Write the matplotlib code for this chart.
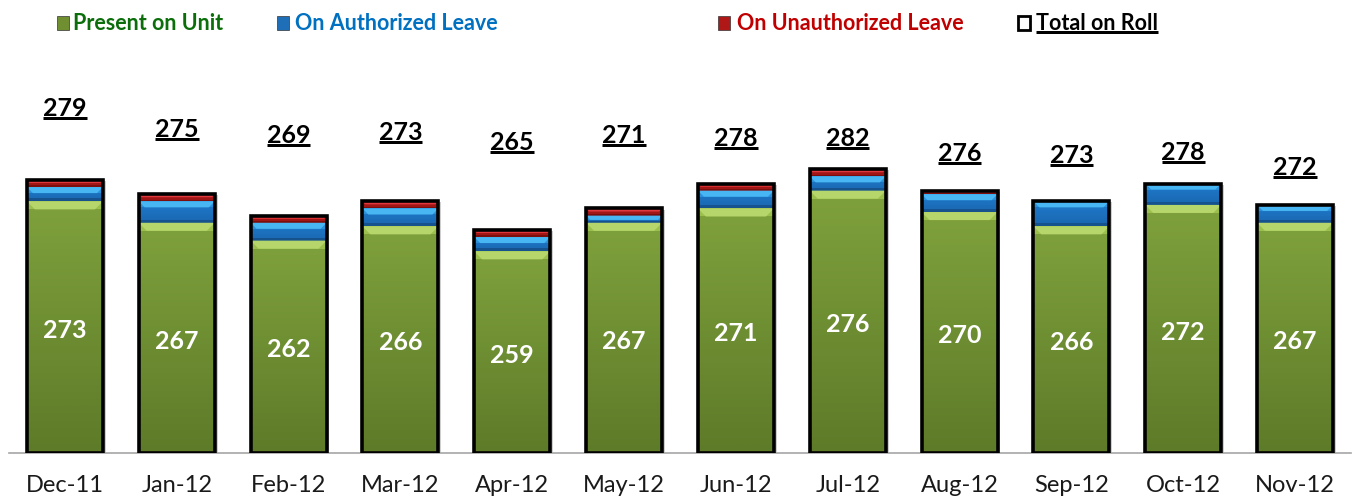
import matplotlib
matplotlib.use("Agg")
import matplotlib.pyplot as plt
from matplotlib.patches import Rectangle, Polygon
from matplotlib.lines import Line2D
from matplotlib.colors import LinearSegmentedColormap
import numpy as np

# ---------------- data ----------------
months = ["Dec-11", "Jan-12", "Feb-12", "Mar-12", "Apr-12", "May-12",
          "Jun-12", "Jul-12", "Aug-12", "Sep-12", "Oct-12", "Nov-12"]
present = [273, 267, 262, 266, 259, 267, 271, 276, 270, 266, 272, 267]
authorized = [4, 6, 5, 5, 4, 2, 5, 4, 5, 7, 6, 5]
unauthorized = [2, 2, 2, 2, 2, 2, 2, 2, 1, 0, 0, 0]
total = [279, 275, 269, 273, 265, 271, 278, 282, 276, 273, 278, 272]

# label heights (layout, data units) for the "Total on Roll" labels
total_label_y = [299.2, 293.3, 291.7, 292.5, 289.7, 291.7,
                 290.8, 290.8, 286.6, 286.1, 286.9, 282.7]

# ---------------- style ----------------
FONT = "Lato"
W, H, DPI = 1358, 502, 100
YMIN, YMAX = 202.5, 312.6
AX_TOP_PX, AX_BOT_PX = 61, 454
styles = {
    "green": dict(body_top="#7fa13c", body_bot="#5e7b29", band="#9cc04c",
                  hi="#b6d66c", low=None),
    "blue": dict(body_top="#1f7ccc", body_bot="#1a66b0", band="#2a90dc",
                 hi="#48b6f2", low="#15528e"),
    "red": dict(body_top="#b01a1a", body_bot="#9a1414", band="#c82222",
                hi="#e0383c", low="#7c0e0e"),
}

fig = plt.figure(figsize=(W / DPI, H / DPI), dpi=DPI)
ax = fig.add_axes([9 / W, 1 - AX_BOT_PX / H, 1342 / W, (AX_BOT_PX - AX_TOP_PX) / H])

x = np.arange(len(months))
bw = 0.68
px_per_unit = (AX_BOT_PX - AX_TOP_PX) / (YMAX - YMIN)
px_per_x = 1342 / len(months)


def seg(xi, bottom, height, st, band_px):
    if height <= 0:
        return
    x0, x1 = xi - bw / 2, xi + bw / 2
    top = bottom + height
    cmap = LinearSegmentedColormap.from_list("g", [st["body_bot"], st["body_top"]])
    grad = np.linspace(0, 1, 64).reshape(-1, 1)
    ax.imshow(grad, extent=[x0, x1, bottom, top], origin="lower", aspect="auto",
              cmap=cmap, zorder=2, interpolation="bilinear")
    b = min(band_px / px_per_unit, height * 0.6)
    d = b * px_per_unit / px_per_x
    if st["low"] is not None:
        lb = min(3.0 / px_per_unit, height * 0.25)
        ax.add_patch(Rectangle((x0, bottom), bw, lb, facecolor=st["low"],
                               linewidth=0, zorder=2.5))
    ax.add_patch(Rectangle((x0, top - b), bw, b, facecolor=st["band"],
                           linewidth=0, zorder=3))
    ax.add_patch(Polygon([(x0, top), (x1, top), (x1 - d, top - b), (x0 + d, top - b)],
                         closed=True, facecolor=st["hi"], linewidth=0, zorder=3.2))


pres = np.array(present, float)
auth = np.array(authorized, float)
unau = np.array(unauthorized, float)
for i in range(len(months)):
    stack_top = pres[i] + auth[i] + unau[i]
    ax.bar(x[i] + 0.025, stack_top - YMIN + 0.3, bw, bottom=YMIN - 0.6,
           color="#cfcfcf", linewidth=0, zorder=1)
    seg(x[i], YMIN, pres[i] - YMIN, styles["green"], 8)
    seg(x[i], pres[i], auth[i], styles["blue"], 6)
    seg(x[i], pres[i] + auth[i], unau[i], styles["red"], 3)
    ax.bar(x[i], stack_top - YMIN, bw, bottom=YMIN,
           fill=False, edgecolor="black", linewidth=2.6, zorder=4)
    ax.text(x[i], (YMIN + pres[i]) / 2 - 0.6, f"{present[i]}", ha="center", va="center",
            color="white", fontsize=18, fontweight="bold", family=FONT, zorder=5)

total_texts = []
for i in range(len(months)):
    t = ax.text(x[i], total_label_y[i], f"{total[i]}", ha="center", va="center",
                color="black", fontsize=18, fontweight="bold", family=FONT, zorder=5)
    total_texts.append(t)

ax.set_xlim(-0.5, len(months) - 0.5)
ax.set_ylim(YMIN, YMAX)
for s in ["top", "right", "left"]:
    ax.spines[s].set_visible(False)
ax.spines["bottom"].set_color("#a6a6a6")
ax.spines["bottom"].set_linewidth(1.2)
ax.set_yticks([])
ax.set_xticks(x)
ax.set_xticklabels(months, fontsize=17, family=FONT, color="#1a1a1a")
ax.tick_params(axis="x", length=0, pad=15)

# ---------------- legend (manual, figure pixels) ----------------
def fx(px):
    return px / W


def fy(py):
    return 1 - py / H


legend = [
    (57, 73, "Present on Unit", "#0b6e0b", "#6f8f30", None),
    (277, 295, "On Authorized Leave", "#0070c0", "#1f6fb8", None),
    (718, 737, "On Unauthorized Leave", "#c00000", "#b01818", None),
    (1018, 1036, "Total on Roll", "black", "white", "black"),
]
leg_texts = []
for mx, tx, label, tcol, fc, ec in legend:
    r = Rectangle((fx(mx), fy(31)), fx(12), 14 / H, transform=fig.transFigure,
                  facecolor=fc, edgecolor=ec if ec else "#333333",
                  linewidth=2 if ec else 0.5)
    fig.add_artist(r)
    t = fig.text(fx(tx), fy(23.5), label, ha="left", va="center", color=tcol,
                 fontsize=15.5, fontweight="bold", family=FONT)
    leg_texts.append(t)

# ---------------- underlines ----------------
fig.canvas.draw()
renderer = fig.canvas.get_renderer()


def underline(t, gap=1.0, lw=3.0):
    bb = t.get_window_extent(renderer)
    y = bb.y0 + gap
    fig.add_artist(Line2D([bb.x0, bb.x1], [y, y], transform=None,
                          color="black", linewidth=lw * 72 / DPI,
                          solid_capstyle="butt"))


for t in total_texts:
    underline(t)
underline(leg_texts[3])

fig.savefig("out.png", dpi=DPI)
